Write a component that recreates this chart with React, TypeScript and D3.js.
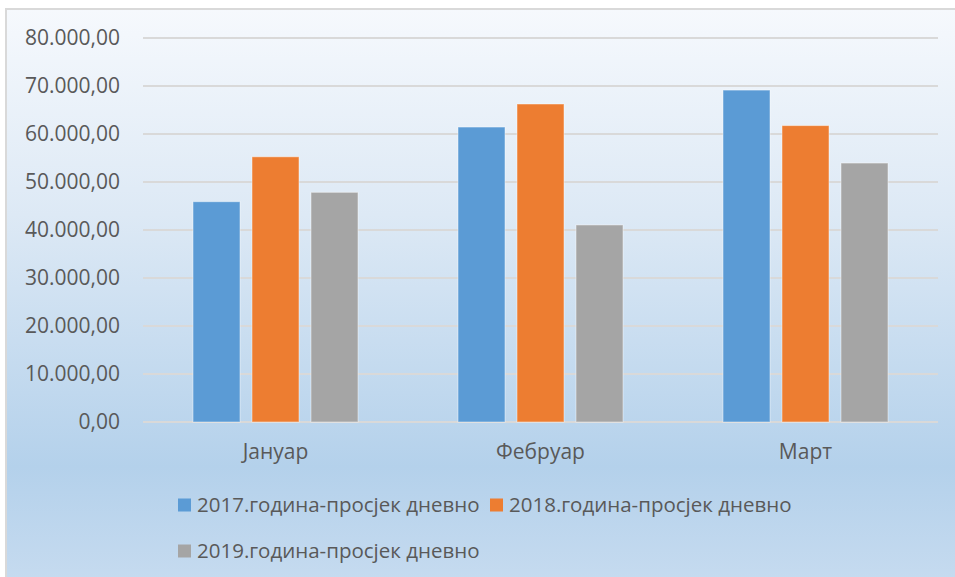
import React from "react";
import * as d3 from "d3";

const months = ["Јануар", "Фебруар", "Март"];
const seriesNames = [
  "2017.година-просјек дневно",
  "2018.година-просјек дневно",
  "2019.година-просјек дневно",
];
const values2017 = [45900, 61450, 69150];
const values2018 = [55250, 66250, 61750];
const values2019 = [47850, 41050, 53950];
const yTicks = [0, 10000, 20000, 30000, 40000, 50000, 60000, 70000, 80000];
const colors = ["#5b9bd5", "#ed7d31", "#a5a5a5"];

const W = 955;
const H = 577;
const FONT = "'Open Sans', 'Noto Sans', sans-serif";
const TEXT = "#595959";
const FS = 21;
const LFS = 20.5;

const fmt = (v: number) => {
  const s = d3.format(",.2f")(v);
  return s.replace(/,/g, "#").replace(/\./g, ",").replace(/#/g, ".");
};

export default function App() {
  const series = [values2017, values2018, values2019];
  const x = d3.scaleBand<string>().domain(months).range([143, 938]).padding(0);
  const inner = d3
    .scaleBand<number>()
    .domain([0, 1, 2])
    .range([-88.5, 88.5])
    .paddingInner(12 / 59)
    .paddingOuter(6 / 59);
  const y = d3.scaleLinear().domain([0, 80000]).range([422, 38]);

  const legendPos = [
    { x: 178, y: 505 },
    { x: 490, y: 505 },
    { x: 178, y: 551 },
  ];

  return (
    <svg
      width={W}
      height={H}
      style={{ position: "absolute", left: 0, top: 0, display: "block" }}
      fontFamily={FONT}
    >
      <defs>
        <linearGradient id="bg" x1="0" y1="0" x2="0" y2="1">
          <stop offset="0" stopColor="#f6f9fd" />
          <stop offset="0.35" stopColor="#dde9f5" />
          <stop offset="0.78" stopColor="#b4d1eb" />
          <stop offset="1" stopColor="#c8dcf0" />
        </linearGradient>
      </defs>
      <rect x={0} y={0} width={W} height={H} fill="#ffffff" />
      <rect x={6} y={9} width={W + 10} height={H + 10} fill="url(#bg)" stroke="#d9d9d9" strokeWidth={2} />

      {yTicks.map((t) => (
        <g key={t}>
          <line x1={143} x2={938} y1={y(t)} y2={y(t)} stroke="#d9d9d9" strokeWidth={2} />
          <text
            x={120}
            y={y(t)}
            dy="0.35em"
            textAnchor="end"
            fontSize={FS}
            fill={TEXT}
          >
            {fmt(t)}
          </text>
        </g>
      ))}

      {months.map((m, i) => {
        const cx = (x(m) as number) + x.bandwidth() / 2;
        return (
          <g key={m}>
            {series.map((vals, s) => (
              <rect
                key={s}
                x={cx + (inner(s) as number)}
                y={y(vals[i])}
                width={inner.bandwidth()}
                height={y(0) - y(vals[i])}
                fill={colors[s]}
                stroke="#ffffff"
                strokeOpacity={0.45}
                strokeWidth={1}
              />
            ))}
            <text x={cx} y={459} textAnchor="middle" fontSize={FS} fill={TEXT}>
              {m}
            </text>
          </g>
        );
      })}

      {seriesNames.map((name, s) => (
        <g key={name}>
          <rect x={legendPos[s].x} y={legendPos[s].y - 6.5} width={13} height={13} fill={colors[s]} />
          <text x={legendPos[s].x + 19} y={legendPos[s].y} dy="0.35em" fontSize={LFS} fill={TEXT}>
            {name}
          </text>
        </g>
      ))}
    </svg>
  );
}
